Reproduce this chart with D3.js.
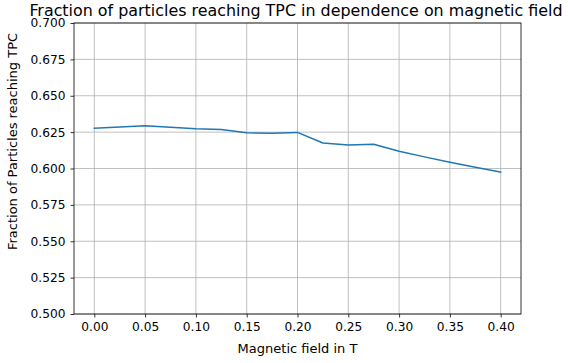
<!DOCTYPE html>
<html><head><meta charset="utf-8">
<script src="https://cdn.jsdelivr.net/npm/d3@7/dist/d3.min.js"></script>
<style>body{margin:0;background:#fff}svg{display:block}text{font-family:"DejaVu Sans",sans-serif;fill:#000}</style>
</head><body><svg id="c" width="568" height="363"></svg>
<script>
const fieldT = [0.000,0.025,0.050,0.075,0.100,0.125,0.150,0.175,0.200,0.225,0.250,0.275,0.300,0.325,0.350,0.375,0.400];
const fraction = [0.6277,0.6286,0.6293,0.6284,0.6274,0.6268,0.6245,0.6243,0.6248,0.6175,0.6161,0.6166,0.6118,0.6080,0.6043,0.6008,0.5975];
const xTicks = [0,0.05,0.10,0.15,0.20,0.25,0.30,0.35,0.40];
const yTicks = [0.500,0.525,0.550,0.575,0.600,0.625,0.650,0.675,0.700];
const title = "Fraction of particles reaching TPC in dependence on magnetic field";
const xLabel = "Magnetic field in T";
const yLabel = "Fraction of Particles reaching TPC";

const svg = d3.select("#c");
const L=74, R=521, T=23, B=314;
const x = d3.scaleLinear().domain([-0.02,0.42]).range([L,R]);
const y = d3.scaleLinear().domain([0.5,0.7]).range([B,T]);

const grid = svg.append("g");
grid.selectAll("line.vx").data(xTicks).join("line")
  .attr("x1",d=>x(d)).attr("x2",d=>x(d)).attr("y1",T).attr("y2",B)
  .attr("stroke","#b0b0b0").attr("stroke-width",0.8);
grid.selectAll("line.hy").data(yTicks).join("line")
  .attr("y1",d=>y(d)).attr("y2",d=>y(d)).attr("x1",L).attr("x2",R)
  .attr("stroke","#b0b0b0").attr("stroke-width",0.8);

const xAxis = d3.axisBottom(x).tickValues(xTicks).tickFormat(d3.format(".2f")).tickSizeOuter(0).tickSize(3.5).tickPadding(5);
const yAxis = d3.axisLeft(y).tickValues(yTicks).tickFormat(d3.format(".3f")).tickSizeOuter(0).tickSize(3.5).tickPadding(5);
const gx = svg.append("g").attr("transform",`translate(0,${B})`).call(xAxis);
const gy = svg.append("g").attr("transform",`translate(${L},0)`).call(yAxis);
[gx,gy].forEach(g=>{
  g.select(".domain").remove();
  g.selectAll(".tick line").attr("stroke","#000").attr("stroke-width",0.8);
  g.selectAll(".tick text").style("font-family","DejaVu Sans").style("font-size","12.2px").attr("fill","#000");
});

svg.append("path").datum(fieldT.map((f,i)=>[f,fraction[i]]))
  .attr("fill","none").attr("stroke","#1f77b4").attr("stroke-width",1.5)
  .attr("stroke-linejoin","round").attr("stroke-linecap","square")
  .attr("d", d3.line().x(d=>x(d[0])).y(d=>y(d[1])));

svg.append("rect").attr("x",L).attr("y",T).attr("width",R-L).attr("height",B-T)
  .attr("fill","none").attr("stroke","#000").attr("stroke-width",0.8);

svg.append("text").attr("x",296).attr("y",16).attr("text-anchor","middle")
  .style("font-size","15.9px").text(title);
svg.append("text").attr("x",297.5).attr("y",352.5).attr("text-anchor","middle")
  .style("font-size","13px").text(xLabel);
svg.append("text").attr("transform",`translate(16.5,${(T+B)/2 - 27}) rotate(-90)`).attr("text-anchor","middle")
  .style("font-size","13px").text(yLabel);
</script></body></html>
